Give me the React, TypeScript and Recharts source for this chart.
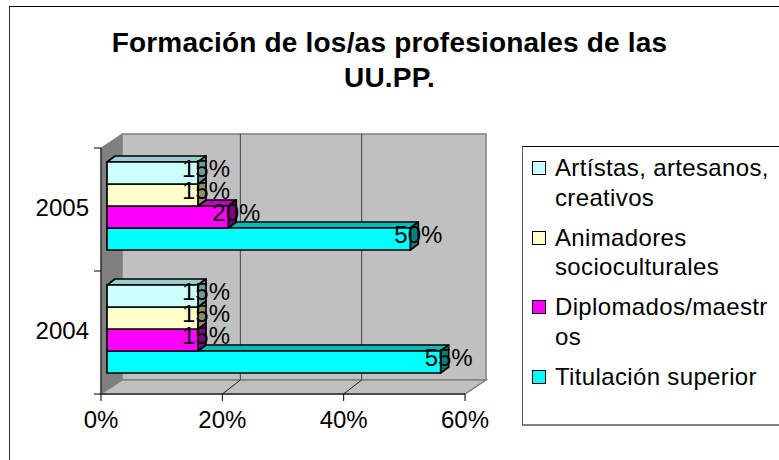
import { BarChart, Bar, XAxis, YAxis, Legend, LabelList, ReferenceArea, ReferenceLine } from 'recharts';

const years = ['2005', '2004'];
const artistas = [15, 15];
const animadores = [15, 15];
const diplomados = [20, 15];
const titulacion = [50, 55];
const xTicks = [0, 20, 40, 60];
const gridTicks = [20, 40];

const data = years.map((year, i) => ({
    year,
    artistas: artistas[i],
    animadores: animadores[i],
    diplomados: diplomados[i],
    titulacion: titulacion[i],
}));

const FONT = '"Liberation Sans", Arial, sans-serif';
// depth of the fake 3D box and of each bar
const WALL_DX = 21;
const WALL_DY = 14;
const BAR_DX = 8;
const BAR_DY = 6;
const BAR_SHIFT_X = 6;
const BAR_SHIFT_Y = -4;

const Walls = (props: any) => {
    const { x, y, width, height } = props;
    const r = x + width;
    const b = y + height;
    return (
        <g>
            <path d={`M${x} ${y} L${x + WALL_DX} ${y - WALL_DY} V${b - WALL_DY} L${x} ${b} Z`} fill="#808080" stroke="#808080" />
            <rect x={x + WALL_DX} y={y - WALL_DY} width={width} height={height} fill="#c0c0c0" stroke="#808080" strokeWidth={1.5} />
            <path d={`M${x} ${b} L${x + WALL_DX} ${b - WALL_DY} H${r + WALL_DX} L${r} ${b} Z`} fill="#c0c0c0" stroke="#808080" strokeWidth={1.5} />
        </g>
    );
};

const WallGridLine = (props: any) => {
    const { x1, y1, y2 } = props;
    const top = Math.min(y1, y2);
    const bottom = Math.max(y1, y2);
    return (
        <g fill="none">
            <path d={`M${x1 + WALL_DX - 3} ${top - WALL_DY} V${bottom - WALL_DY}`} stroke="#404040" strokeWidth={1} />
            <path d={`M${x1} ${bottom} L${x1 + WALL_DX - 3} ${bottom - WALL_DY}`} stroke="#202020" strokeWidth={1} />
        </g>
    );
};

const Box3D = (props: any) => {
    const { x, y, width, height, fill, topFill, sideFill } = props;
    const bx = x + BAR_SHIFT_X;
    const by = y + BAR_SHIFT_Y;
    const r = bx + width;
    const b = by + height;
    return (
        <g stroke="#000" strokeWidth={1.7} strokeLinejoin="round">
            <path d={`M${bx} ${by} L${bx + BAR_DX} ${by - BAR_DY} H${r + BAR_DX} L${r} ${by} Z`} fill={topFill} />
            <path d={`M${r} ${by} L${r + BAR_DX} ${by - BAR_DY} V${b - BAR_DY} L${r} ${b} Z`} fill={sideFill} />
            <rect x={bx} y={by} width={width} height={height} fill={fill} />
        </g>
    );
};

const PercentLabel = (props: any) => {
    const { x, y, width, height, value } = props;
    return (
        <text
            x={x + width + BAR_SHIFT_X + 8}
            y={y + height / 2 + BAR_SHIFT_Y - 5}
            textAnchor="middle"
            dominantBaseline="central"
            fontFamily={FONT}
            fontSize={24}
            fill="#000"
        >
            {value}%
        </text>
    );
};

const YearTick = (props: any) => {
    const { x, y, payload } = props;
    return (
        <g>
            <line x1={x + 1} x2={x + 8} y1={y - 61.5} y2={y - 61.5} stroke="#000" />
            {payload.index === 1 && <line x1={x + 1} x2={x + 8} y1={y + 61.5} y2={y + 61.5} stroke="#000" />}
            <text x={x - 4} y={y - 2} textAnchor="end" dominantBaseline="central" fontFamily={FONT} fontSize={24} fill="#000">
                {payload.value}
            </text>
        </g>
    );
};

const LegendBox = ({ payload }: any) => (
    <div
        style={{
            width: 265,
            height: 280,
            boxSizing: 'border-box',
            borderTop: '1px solid #000',
            borderLeft: '1.5px solid #555',
            borderBottom: '2px solid #808080',
            padding: '6px 0 0 9px',
            fontFamily: FONT,
            fontSize: 24,
            lineHeight: '29.5px',
            color: '#000',
        }}
    >
        {payload.map((item: any) => (
            <div key={item.value} style={{ display: 'flex', marginBottom: 10.5 }}>
                <span
                    style={{
                        width: 14,
                        height: 14,
                        boxSizing: 'border-box',
                        marginTop: 8,
                        marginRight: 9,
                        flex: 'none',
                        border: '1.5px solid #000',
                        background: item.color,
                    }}
                />
                <span style={{ whiteSpace: 'pre-line', letterSpacing: 0.35 }}>{item.value}</span>
            </div>
        ))}
    </div>
);

export default function App() {
    return (
        <div style={{ position: 'fixed', left: 0, top: 0, width: 779, height: 460, background: '#fff', overflow: 'hidden' }}>
            <div style={{ position: 'absolute', left: 9, top: 6, width: 800, height: 470, borderTop: '1.5px solid #000', borderLeft: '1.5px solid #333', boxSizing: 'border-box' }} />
            <div
                style={{
                    position: 'absolute',
                    left: 0,
                    width: 779,
                    top: 25,
                    textAlign: 'center',
                    fontFamily: FONT,
                    fontWeight: 700,
                    fontSize: 28,
                    letterSpacing: 0.2,
                    lineHeight: '35px',
                    color: '#000',
                }}
            >
                Formación de los/as profesionales de las
                <br />
                UU.PP.
            </div>
            <div style={{ position: 'absolute', left: 0, top: 0 }}>
                <BarChart
                    width={779}
                    height={460}
                    data={data}
                    layout="vertical"
                    margin={{ top: 148, right: 314, bottom: 0, left: 0 }}
                    barGap={0}
                    barSize={22}
                >
                    <XAxis
                        type="number"
                        domain={[0, 60]}
                        ticks={xTicks}
                        tickFormatter={(v: number) => `${v}%`}
                        tick={{ fontFamily: FONT, fontSize: 24, fill: '#000' }}
                        stroke="#000"
                        tickSize={7}
                        tickMargin={10}
                        interval={0}
                        height={66}
                    />
                    <YAxis type="category" dataKey="year" width={101} stroke="#000" tickLine={false} tick={<YearTick />} />
                    <ReferenceArea x1={0} x2={60} shape={<Walls />} fill="#c0c0c0" ifOverflow="visible" />
                    {gridTicks.map((t) => (
                        <ReferenceLine key={t} x={t} shape={<WallGridLine />} ifOverflow="visible" />
                    ))}
                    <Legend
                        layout="vertical"
                        verticalAlign="middle"
                        align="center"
                        itemSorter={null}
                        content={<LegendBox />}
                        wrapperStyle={{ position: 'absolute', left: 522, top: 146, right: 'auto', bottom: 'auto', width: 265, height: 280 }}
                    />
                    {/* upper bars sit in front of the lower ones, as in the 3D original */}
                    <Bar dataKey="artistas" zIndex={404} name={'Artístas, artesanos,\ncreativos'} fill="#ccffff" isAnimationActive={false} shape={<Box3D topFill="#99cccc" sideFill="#6f9a9a" />}>
                        <LabelList dataKey="artistas" content={<PercentLabel />} />
                    </Bar>
                    <Bar dataKey="animadores" zIndex={403} name={'Animadores\nsocioculturales'} fill="#ffffcc" isAnimationActive={false} shape={<Box3D topFill="#cccc99" sideFill="#8f8f60" />}>
                        <LabelList dataKey="animadores" content={<PercentLabel />} />
                    </Bar>
                    <Bar dataKey="diplomados" zIndex={402} name={'Diplomados/maestr\nos'} fill="#ff00ff" isAnimationActive={false} shape={<Box3D topFill="#c000c0" sideFill="#800080" />}>
                        <LabelList dataKey="diplomados" content={<PercentLabel />} />
                    </Bar>
                    <Bar dataKey="titulacion" zIndex={401} name="Titulación superior" fill="#00ffff" isAnimationActive={false} shape={<Box3D topFill="#00bdbd" sideFill="#008080" />}>
                        <LabelList dataKey="titulacion" content={<PercentLabel />} />
                    </Bar>
                </BarChart>
            </div>
        </div>
    );
}
